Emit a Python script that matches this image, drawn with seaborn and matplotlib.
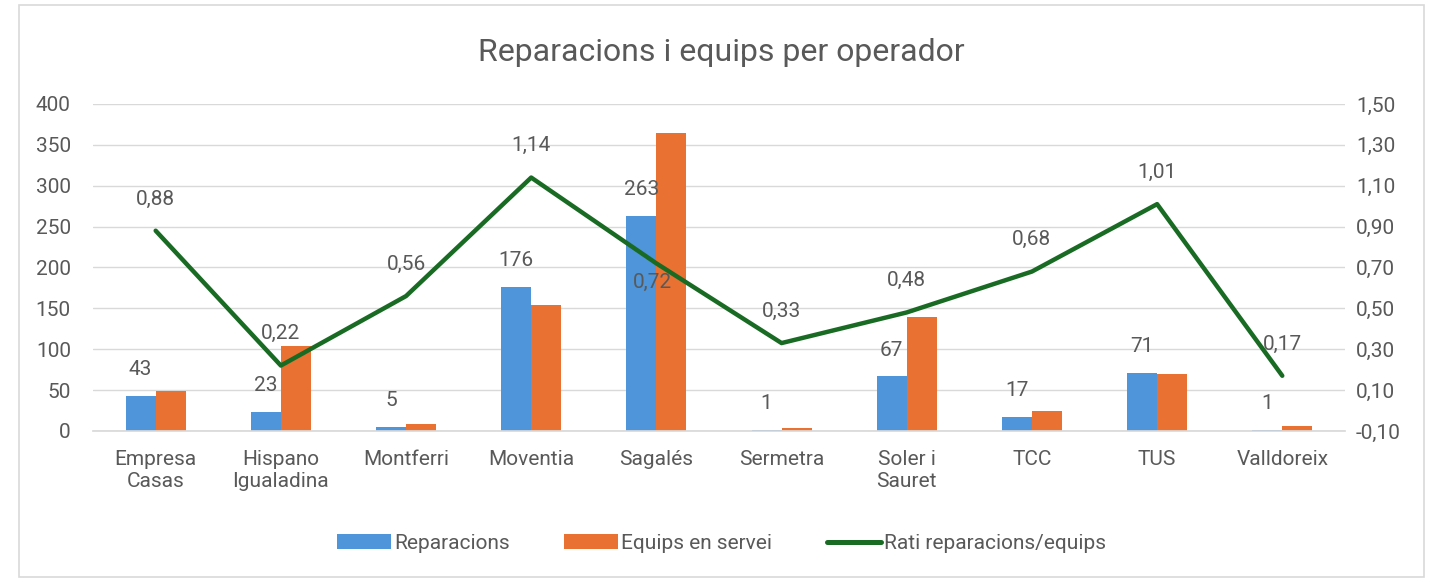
import matplotlib
matplotlib.use("Agg")
import matplotlib.pyplot as plt
import seaborn as sns
import pandas as pd
import numpy as np
from matplotlib.patches import Patch, Rectangle
from matplotlib.lines import Line2D

operadors = ["Empresa\nCasas", "Hispano\nIgualadina", "Montferri", "Moventia", "Sagalés",
             "Sermetra", "Soler i\nSauret", "TCC", "TUS", "Valldoreix"]
reparacions = [43, 23, 5, 176, 263, 1, 67, 17, 71, 1]
equips = [49, 104, 9, 154, 364, 3, 139, 25, 70, 6]
rati = [0.88, 0.22, 0.56, 1.14, 0.72, 0.33, 0.48, 0.68, 1.01, 0.17]

sns.set_theme(style="white")
plt.rcParams['font.family'] = ['Roboto', 'DejaVu Sans']

C_BLUE = "#4E95D9"
C_ORANGE = "#E97132"
C_GREEN = "#196B24"
C_TEXT = "#595959"
C_GRID = "#D9D9D9"
FS = 15

df = pd.DataFrame({
    "operador": operadors * 2,
    "valor": reparacions + equips,
    "serie": ["Reparacions"] * len(operadors) + ["Equips en servei"] * len(operadors),
})

fig = plt.figure(figsize=(14.43, 5.8), dpi=100)
ax = fig.add_axes([0.0645, 0.257, 0.8675, 0.5637])

sns.barplot(data=df, x="operador", y="valor", hue="serie", order=operadors,
            hue_order=["Reparacions", "Equips en servei"],
            palette=[C_BLUE, C_ORANGE], width=0.48, gap=0, ax=ax,
            legend=False, saturation=1, edgecolor="none", linewidth=0)

ax.set_ylim(0, 400)
ax.set_yticks(np.arange(0, 401, 50))
ax.set_xlim(-0.5, len(operadors) - 0.5)
ax.grid(axis="y", color=C_GRID, linewidth=1)
ax.set_axisbelow(True)
for s in ["top", "right", "left"]:
    ax.spines[s].set_visible(False)
ax.spines["bottom"].set_color(C_GRID)
ax.set_xlabel("")
ax.set_ylabel("")
ax.tick_params(axis="y", length=0, labelsize=FS, labelcolor=C_TEXT, pad=16)
ax.tick_params(axis="x", length=0, labelsize=FS, labelcolor=C_TEXT, pad=14)

# labels on reparacions bars
for i, v in enumerate(reparacions):
    ax.annotate(str(v), xy=(i - 0.12, v), xytext=(0, 12), textcoords="offset points",
                ha="center", va="bottom", fontsize=FS, color=C_TEXT)

ax2 = ax.twinx()
sns.lineplot(x=np.arange(len(operadors)), y=rati, ax=ax2, color=C_GREEN, linewidth=3.2)
ax2.set_ylim(-0.10, 1.50)
ax2.set_yticks(np.arange(-0.10, 1.51, 0.20))
ax2.set_yticklabels([f"{t:.2f}".replace(".", ",") for t in np.arange(-0.10, 1.51, 0.20)])
ax2.set_xlim(-0.5, len(operadors) - 0.5)
for s in ["top", "right", "left", "bottom"]:
    ax2.spines[s].set_visible(False)
ax2.tick_params(axis="y", length=0, labelsize=FS, labelcolor=C_TEXT, pad=8)
ax2.set_ylabel("")

for i, r in enumerate(rati):
    lbl = f"{r:.2f}".replace(".", ",")
    if i == 4:
        ax2.annotate(lbl, xy=(i, r), xytext=(-3, -7), textcoords="offset points",
                     ha="center", va="top", fontsize=FS, color=C_TEXT)
    else:
        ax2.annotate(lbl, xy=(i, r), xytext=(0, 16), textcoords="offset points",
                     ha="center", va="bottom", fontsize=FS, color=C_TEXT)

fig.suptitle("Reparacions i equips per operador", x=0.5, y=0.935, fontsize=23, color=C_TEXT)

handles = [Patch(facecolor=C_BLUE, edgecolor="none"),
           Patch(facecolor=C_ORANGE, edgecolor="none"),
           Line2D([0], [0], color=C_GREEN, linewidth=3.6)]
fig.legend(handles, ["Reparacions", "Equips en servei", "Rati reparacions/equips"],
           loc="center", bbox_to_anchor=(0.5, 0.063), ncol=3, frameon=False,
           fontsize=FS, labelcolor=C_TEXT, handlelength=2.6, handletextpad=0.15,
           columnspacing=2.6, handleheight=0.7)

fig.patches.append(Rectangle((0.013, 0.006), 0.974, 0.985, transform=fig.transFigure,
                             fill=False, edgecolor=C_GRID, linewidth=1.2))

fig.savefig("out.png", dpi=100)
